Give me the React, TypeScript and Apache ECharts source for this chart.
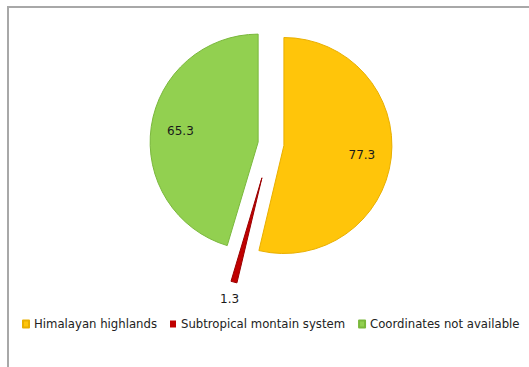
import React, { useEffect, useRef } from 'react';
import * as echarts from 'echarts';

const categories = ['Himalayan highlands', 'Subtropical montain system', 'Coordinates not available'];
const values = [77.3, 1.3, 65.3];
const colors = ['#FFC50A', '#C00000', '#92D050'];
const borderColors = ['#E9AF00', '#9A0000', '#7AB83C'];

export default function App() {
  const ref = useRef<HTMLDivElement>(null);
  useEffect(() => {
    const chart = echarts.init(ref.current as HTMLDivElement, null, { renderer: 'svg' });
    const center = [271, 144];
    const R = 108;
    const RED = 1;
    const build = (
      visible: (i: number) => boolean,
      selected: (i: number) => boolean,
      labelShow: (i: number) => boolean
    ) =>
      categories.map((name, i) => ({
        name,
        value: values[i],
        selected: selected(i),
        itemStyle: visible(i)
          ? { color: colors[i], borderColor: borderColors[i], borderWidth: 1 }
          : { color: 'rgba(0,0,0,0)', borderWidth: 0 },
        label: { show: labelShow(i) },
      }));
    const base = {
      type: 'pie',
      center,
      startAngle: 90,
      clockwise: true,
      selectedMode: 'multiple',
      avoidLabelOverlap: false,
      silent: true,
      emphasis: { disabled: true },
      labelLine: { show: false },
      label: {
        position: 'inside',
        formatter: '{c}',
        fontFamily: 'DejaVu Sans',
        fontSize: 12,
        color: '#1a1a1a',
      },
    };
    chart.setOption({
      animation: false,
      backgroundColor: '#ffffff',
      textStyle: { fontFamily: 'DejaVu Sans' },
      graphic: [
        {
          type: 'rect',
          shape: { x: 8, y: 7, width: 560, height: 420 },
          style: { fill: 'none', stroke: '#a8a8a8', lineWidth: 2 },
          silent: true,
        },
      ],
      legend: {
        data: categories.map((n, i) => ({ name: n, itemStyle: { color: colors[i] } })),
        left: 22,
        top: 318,
        width: 510,
        padding: 0,
        icon: 'rect',
        itemWidth: 6,
        itemHeight: 7,
        itemGap: 13,
        selectedMode: false,
        textStyle: { fontFamily: 'DejaVu Sans', fontSize: 11.7, color: '#222' },
      },
      series: [
        {
          ...base,
          name: 'main',
          radius: [0, R],
          selectedOffset: 13,
          data: build((i) => i !== RED, (i) => i !== RED, () => false),
        },
        {
          ...base,
          name: 'red',
          radius: [0, R],
          selectedOffset: 35,
          data: build((i) => i === RED, (i) => i === RED, () => false),
        },
        {
          ...base,
          name: 'mainLabels',
          radius: [43, R],
          selectedOffset: 13,
          data: build(() => false, (i) => i !== RED, (i) => i !== RED),
        },
        {
          ...base,
          name: 'redLabel',
          radius: [R, 136],
          selectedOffset: 35,
          data: build(() => false, (i) => i === RED, (i) => i === RED),
        },
      ],
    });
    return () => chart.dispose();
  }, []);
  return (
    <div
      ref={ref}
      style={{ position: 'fixed', left: 0, top: 0, width: 529, height: 367 }}
    />
  );
}
